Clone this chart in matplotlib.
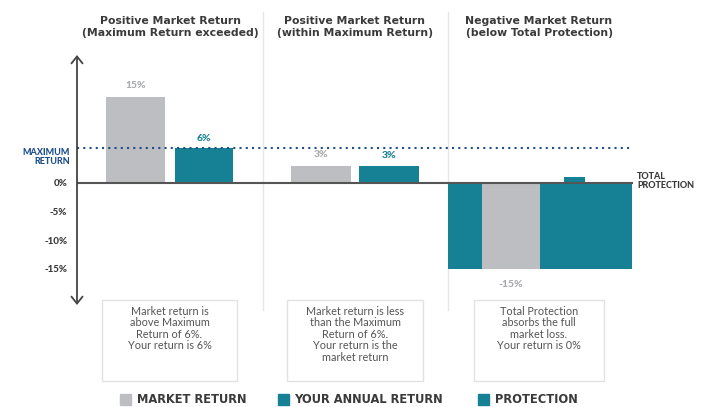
import matplotlib
matplotlib.use("Agg")
import matplotlib.pyplot as plt
from matplotlib.patches import Rectangle
from matplotlib.lines import Line2D

plt.rcParams['font.family'] = ['Lato', 'DejaVu Sans']

# ---- data ----
scenarios = ["Positive Market Return\n(Maximum Return exceeded)",
             "Positive Market Return\n(within Maximum Return)",
             "Negative Market Return\n(below Total Protection)"]
market_return = [15, 3, -15]
your_return = [6, 3, 1]
protection = [None, None, -15]
market_labels = ["15%", "3%", "-15%"]
your_labels = ["6%", "3%", ""]
max_return = 6
yticks = [0, -5, -10, -15]
ytick_labels = ["0%", "-5%", "-10%", "-15%"]
notes = ["Market return is\nabove Maximum\nReturn of 6%.\nYour return is 6%",
         "Market return is less\nthan the Maximum\nReturn of 6%.\nYour return is the\nmarket return",
         "Total Protection\nabsorbs the full\nmarket loss.\nYour return is 0%"]
legend_labels = ["MARKET RETURN", "YOUR ANNUAL RETURN", "PROTECTION"]

GRAY = "#BDBEC1"
TEAL = "#168194"
BLUE = "#1F4E8C"
DARK = "#3A3A3A"
TXT = "#555555"
HEAVY = 900
WIDE = ['DejaVu Sans']

W, H = 713, 407
fig = plt.figure(figsize=(W / 100, H / 100), dpi=100)
fig.patch.set_facecolor('white')

def fx(x): return x / W
def fy(y): return 1 - y / H

# separators (behind the axes content)
for x in [263, 448]:
    fig.add_artist(Line2D([fx(x), fx(x)], [fy(12), fy(310)], color="#E6E6E6", lw=1, zorder=-1))

ax_left, ax_right, ax_top, ax_bot = 77, 640, 55, 305
ax = fig.add_axes([fx(ax_left), fy(ax_bot), (ax_right - ax_left) / W, (ax_bot - ax_top) / H])
ax.set_facecolor('none')
ax.set_xlim(0, ax_right - ax_left)
ax.set_ylim(-21.3, 22.3)
for s in ax.spines.values():
    s.set_visible(False)
ax.set_xticks([])
ax.set_yticks(yticks)
ax.set_yticklabels(ytick_labels, fontsize=7, fontweight=HEAVY, color=DARK)
ax.tick_params(axis='y', length=0, pad=7)

# bar layout (pixel offsets from axis)
gray_pos = [(135.5, 59), (321, 60), (511, 58)]
teal_pos = [(204, 58), (389, 60), (574.5, 21)]
prot_pos = [None, None, (540, 184)]

for i in range(3):
    if protection[i] is not None:
        c, w = prot_pos[i]
        ax.bar(c - ax_left, protection[i], width=w, color=TEAL, zorder=1)
for i in range(3):
    c, w = gray_pos[i]
    ax.bar(c - ax_left, market_return[i], width=w, color=GRAY, zorder=2)
    c2, w2 = teal_pos[i]
    ax.bar(c2 - ax_left, your_return[i], width=w2, color=TEAL, zorder=2)
    v = market_return[i]
    if v >= 0:
        ax.text(c - ax_left, v + 1.2, market_labels[i], ha='center', va='bottom',
                fontsize=7.5, fontweight=HEAVY, color="#A8A9AC")
    else:
        ax.text(c - ax_left, v - 2.0, market_labels[i], ha='center', va='top',
                fontsize=7.5, fontweight=HEAVY, color="#A8A9AC")
    if your_labels[i]:
        ax.text(c2 - ax_left, your_return[i] + 1.0, your_labels[i], ha='center', va='bottom',
                fontsize=7.5, fontweight=HEAVY, color=TEAL)

# zero line and max return line
ax.plot([0, 632 - ax_left], [0, 0], color="#555555", lw=1.5, zorder=3)
ax.plot([0, 633 - ax_left], [max_return, max_return], color=BLUE, lw=1.5,
        linestyle=(0, (1, 2)), zorder=3)

# axis with open chevron arrows
ax.annotate("", xy=(0, 1), xytext=(0, 0), xycoords='axes fraction',
            arrowprops=dict(arrowstyle="<->,head_length=0.5,head_width=0.4",
                            color="#444444", lw=1.3, shrinkA=0, shrinkB=0))

ax.text(-7, max_return, "MAXIMUM\nRETURN", ha='right', va='top', fontsize=6.5,
        fontweight=HEAVY, color=BLUE, linespacing=1.0,
        transform=ax.transData)
fig.text(fx(637), fy(181), "TOTAL\nPROTECTION", ha='left', va='center', fontsize=6.5,
         fontweight=HEAVY, color=DARK, linespacing=1.0)

# titles
title_x = [170, 355, 539]
for i in range(3):
    fig.text(fx(title_x[i]), fy(27), scenarios[i], ha='center', va='center', fontsize=7.8,
             fontweight='bold', family=WIDE, color=DARK, linespacing=1.3)

# note boxes
boxes = [(102, 237), (287, 423), (474, 604)]
for i, (x0, x1) in enumerate(boxes):
    fig.add_artist(Rectangle((fx(x0), fy(381)), (x1 - x0) / W, (381 - 300) / H,
                             transform=fig.transFigure, facecolor='white',
                             edgecolor="#E2E2E2", lw=1))
    fig.text(fx((x0 + x1) / 2), fy(306), notes[i], ha='center', va='top', fontsize=7.8,
             color=TXT, linespacing=1.05)

# legend (manual placement)
leg_colors = [GRAY, TEAL, TEAL]
leg_sq_x = [120, 278, 478]
leg_txt_x = [137, 294, 495]
for i in range(3):
    fig.add_artist(Rectangle((fx(leg_sq_x[i]), fy(405)), 11 / W, 11 / H,
                             transform=fig.transFigure, color=leg_colors[i]))
    fig.text(fx(leg_txt_x[i]), fy(399.5), legend_labels[i], ha='left', va='center',
             fontsize=8.3, fontweight='bold', family=WIDE, color=DARK)

fig.savefig("out.png", dpi=100, facecolor='white')
